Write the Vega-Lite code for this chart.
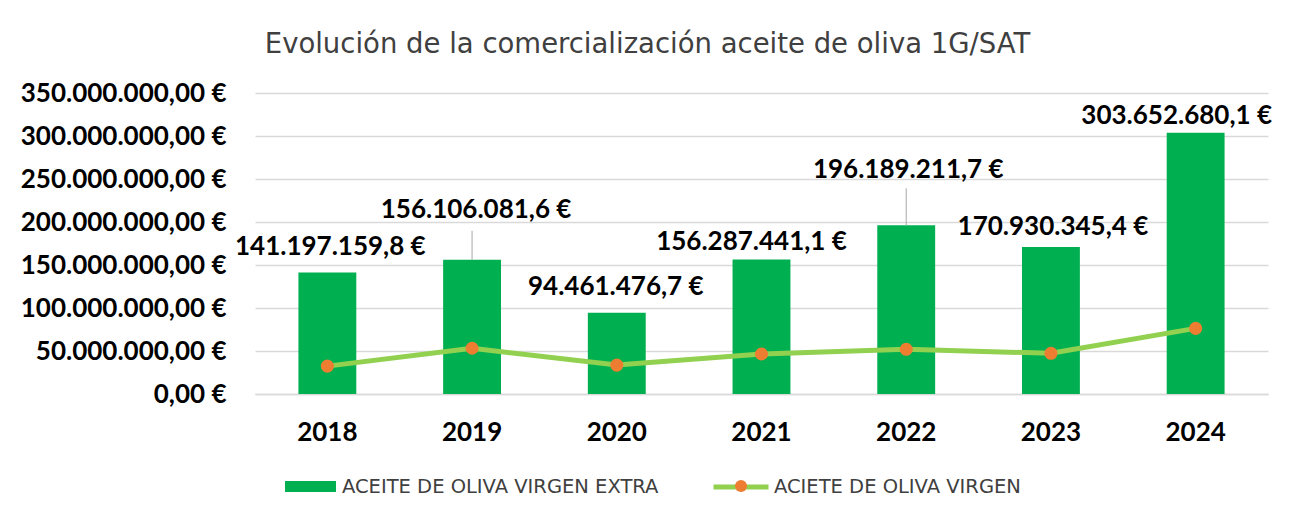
{
  "$schema": "https://vega.github.io/schema/vega-lite/v6.json",
  "width": 1013,
  "height": 301,
  "autosize": {"type": "none"},
  "padding": {"left": 255, "top": 93, "right": 27, "bottom": 121},
  "background": "white",
  "title": {
    "text": "Evolución de la comercialización aceite de oliva 1G/SAT",
    "anchor": "middle",
    "frame": "group",
    "dx": -114,
    "offset": 22,
    "font": "DejaVu Sans",
    "fontSize": 27.5,
    "fontWeight": "normal",
    "color": "#404040",
    "limit": 0
  },
  "data": {
    "values": [
      {"year": "2018", "extra": 141197159.8, "virgen": 32400000},
      {"year": "2019", "extra": 156106081.6, "virgen": 53200000},
      {"year": "2020", "extra": 94461476.7, "virgen": 33600000},
      {"year": "2021", "extra": 156287441.1, "virgen": 46500000},
      {"year": "2022", "extra": 196189211.7, "virgen": 52000000},
      {"year": "2023", "extra": 170930345.4, "virgen": 47300000},
      {"year": "2024", "extra": 303652680.1, "virgen": 76300000}
    ]
  },
  "encoding": {
    "x": {
      "field": "year",
      "type": "ordinal",
      "scale": {"paddingInner": 0.6, "paddingOuter": 0.3},
      "axis": {
        "title": null,
        "labelAngle": 0,
        "labelFont": "Lato",
        "labelFontSize": 26,
        "labelFontWeight": "bold",
        "labelColor": "#000000",
        "labelPadding": 25,
        "ticks": false,
        "domain": true,
        "domainColor": "#D9D9D9",
        "domainWidth": 1.5
      }
    }
  },
  "layer": [
    {
      "mark": {"type": "bar"},
      "encoding": {
        "y": {
          "field": "extra",
          "type": "quantitative",
          "scale": {"domain": [0, 350000000], "nice": false},
          "axis": {
            "title": null,
            "format": "$,.2f",
            "values": [0, 50000000, 100000000, 150000000, 200000000, 250000000, 300000000, 350000000],
            "labelFont": "Lato",
            "labelFontSize": 26,
            "labelFontWeight": "bold",
            "labelColor": "#000000",
            "labelPadding": 29,
            "labelLimit": 0,
            "ticks": false,
            "domain": false,
            "grid": true,
            "gridColor": "#D9D9D9",
            "gridWidth": 1.5
          }
        },
        "fill": {
          "datum": "ACEITE DE OLIVA VIRGEN EXTRA",
          "scale": {"range": ["#00B050"]},
          "legend": {
            "title": null,
            "orient": "none",
            "legendX": 30,
            "legendY": 368,
            "symbolType": "M-1,-0.22H1V0.22H-1Z",
            "symbolSize": 2600,
            "symbolStrokeWidth": 0,
            "labelFont": "DejaVu Sans",
            "labelFontSize": 19.5,
            "labelColor": "#404040",
            "labelOffset": 6,
            "labelLimit": 0,
            "padding": 0
          }
        }
      }
    },
    {
      "mark": {"type": "line", "strokeWidth": 5},
      "encoding": {
        "y": {"field": "virgen", "type": "quantitative"},
        "stroke": {
          "datum": "ACIETE DE OLIVA VIRGEN",
          "scale": {"range": ["#92D050"]},
          "legend": {
            "title": null,
            "orient": "none",
            "legendX": 456,
            "legendY": 364,
            "symbolType": "stroke",
            "symbolSize": 3025,
            "symbolStrokeWidth": 5,
            "labelFont": "DejaVu Sans",
            "labelFontSize": 19.5,
            "labelColor": "#404040",
            "labelOffset": 3,
            "labelLimit": 0,
            "padding": 0
          }
        }
      }
    },
    {
      "mark": {"type": "point", "filled": true, "color": "#ED7D31", "opacity": 1, "size": 170},
      "encoding": {
        "y": {"field": "virgen", "type": "quantitative"},
        "shape": {
          "datum": "punto",
          "scale": {"range": ["circle"]},
          "legend": {
            "title": null,
            "orient": "none",
            "legendX": 480,
            "legendY": 387,
            "symbolSize": 144,
            "symbolFillColor": "#ED7D31",
            "symbolStrokeWidth": 0,
            "symbolOpacity": 1,
            "labelExpr": "''",
            "padding": 0
          }
        }
      }
    },
    {
      "transform": [{"filter": "datum.year == '2019'"}],
      "mark": {"type": "rule", "color": "#A6A6A6", "strokeWidth": 1, "y2Offset": -29},
      "encoding": {
        "y": {"field": "extra", "type": "quantitative"},
        "y2": {"field": "extra"}
      }
    },
    {
      "transform": [{"filter": "datum.year == '2022'"}],
      "mark": {"type": "rule", "color": "#A6A6A6", "strokeWidth": 1, "y2Offset": -37},
      "encoding": {
        "y": {"field": "extra", "type": "quantitative"},
        "y2": {"field": "extra"}
      }
    },
    {
      "transform": [{"filter": "datum.year == '2018'"}],
      "mark": {"type": "text", "dx": 3, "dy": -26},
      "encoding": {"y": {"field": "extra", "type": "quantitative"}, "text": {"field": "extra", "type": "quantitative", "format": "$,.1f"}}
    },
    {
      "transform": [{"filter": "datum.year == '2019'"}],
      "mark": {"type": "text", "dx": 4, "dy": -50},
      "encoding": {"y": {"field": "extra", "type": "quantitative"}, "text": {"field": "extra", "type": "quantitative", "format": "$,.1f"}}
    },
    {
      "transform": [{"filter": "datum.year == '2020'"}],
      "mark": {"type": "text", "dx": -1, "dy": -26},
      "encoding": {"y": {"field": "extra", "type": "quantitative"}, "text": {"field": "extra", "type": "quantitative", "format": "$,.1f"}}
    },
    {
      "transform": [{"filter": "datum.year == '2021'"}],
      "mark": {"type": "text", "dx": -10, "dy": -18},
      "encoding": {"y": {"field": "extra", "type": "quantitative"}, "text": {"field": "extra", "type": "quantitative", "format": "$,.1f"}}
    },
    {
      "transform": [{"filter": "datum.year == '2022'"}],
      "mark": {"type": "text", "dx": 2, "dy": -55},
      "encoding": {"y": {"field": "extra", "type": "quantitative"}, "text": {"field": "extra", "type": "quantitative", "format": "$,.1f"}}
    },
    {
      "transform": [{"filter": "datum.year == '2023'"}],
      "mark": {"type": "text", "dx": 2, "dy": -20},
      "encoding": {"y": {"field": "extra", "type": "quantitative"}, "text": {"field": "extra", "type": "quantitative", "format": "$,.1f"}}
    },
    {
      "transform": [{"filter": "datum.year == '2024'"}],
      "mark": {"type": "text", "dx": -19, "dy": -17},
      "encoding": {"y": {"field": "extra", "type": "quantitative"}, "text": {"field": "extra", "type": "quantitative", "format": "$,.1f"}}
    }
  ],
  "config": {
    "locale": {
      "number": {
        "decimal": ",",
        "thousands": ".",
        "grouping": [3],
        "currency": ["", " €"]
      }
    },
    "view": {"stroke": null},
    "text": {"font": "Lato", "fontSize": 26, "fontWeight": "bold", "color": "#000000", "baseline": "middle", "align": "center"}
  }
}
